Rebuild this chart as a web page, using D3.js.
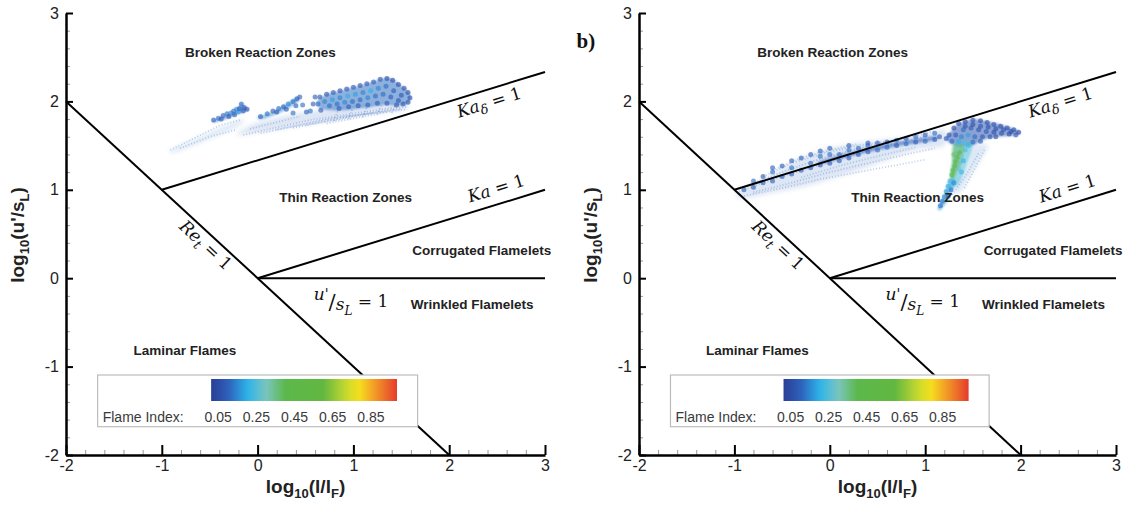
<!DOCTYPE html>
<html>
<head>
<meta charset="utf-8">
<script src="https://cdn.jsdelivr.net/npm/d3@7"></script>
<style>
  body { margin: 0; background: #fff; }
  svg { display: block; }
</style>
</head>
<body>
<script>
// ---- data ----
const xTicks = [-2, -1, 0, 1, 2, 3]
const yTicks = [-2, -1, 0, 1, 2, 3]
const fiTicks = [0.05, 0.25, 0.45, 0.65, 0.85]

// regime boundaries, in (log10(l/lF), log10(u'/sL))
const reLine = [[-2, 2], [2, -2]]
const kaDeltaLine = [[-1, 1], [3, 7 / 3]]
const kaLine = [[0, 0], [3, 1]]
const uslLine = [[0, 0], [3, 0]]

const regionNames = ['Broken Reaction Zones', 'Thin Reaction Zones', 'Corrugated Flamelets',
  'Wrinkled Flamelets', 'Laminar Flames']

// panel a
// faint haze outlines [flame index, outline]
const leftHaze = [
  [0.12, [[-0.92, 1.44], [-0.6, 1.6], [-0.3, 1.74], [-0.15, 1.8], [-0.2, 1.72], [-0.5, 1.58], [-0.85, 1.43]]],
  [0.10, [[-0.2, 1.62], [0.5, 1.74], [1.0, 1.83], [1.5, 1.9], [1.56, 1.96], [1.0, 1.94], [0.5, 1.88], [0.0, 1.76]]]
]
// dense patch outlines [flame index, outline]
const leftPatches = [
  [0.12, [[0.62, 2.0], [0.72, 2.08], [0.86, 2.12], [1.0, 2.16], [1.14, 2.2], [1.28, 2.25], [1.36, 2.27],
    [1.44, 2.23], [1.52, 2.16], [1.58, 2.1], [1.6, 2.03], [1.57, 1.98], [1.48, 1.95], [1.35, 1.96],
    [1.2, 1.94], [1.05, 1.92], [0.9, 1.9], [0.75, 1.9], [0.65, 1.92]]],
  [0.12, [[-0.47, 1.78], [-0.35, 1.83], [-0.22, 1.9], [-0.17, 1.98], [-0.12, 1.93], [-0.1, 1.9],
    [-0.2, 1.86], [-0.33, 1.8], [-0.45, 1.76]]],
  [0.15, [[0.0, 1.82], [0.2, 1.9], [0.4, 2.04], [0.43, 2.0], [0.25, 1.88], [0.05, 1.8]]]
]
// faint streaks [flame index, points]
const leftStreaks = [
  [0.12, [[-0.91, 1.45], [-0.67, 1.58], [-0.39, 1.73], [-0.18, 1.79]]],
  [0.12, [[-0.81, 1.47], [-0.50, 1.60], [-0.22, 1.68]]],
  [0.10, [[-0.15, 1.62], [0.55, 1.79], [1.42, 1.93]]],
  [0.10, [[0.03, 1.64], [0.72, 1.80], [1.49, 1.91]]],
  [0.10, [[0.20, 1.68], [0.90, 1.83], [1.56, 1.91]]],
  [0.10, [[0.37, 1.70], [1.07, 1.85], [1.57, 1.94]]],
  [0.10, [[0.51, 1.73], [1.21, 1.87]]],
  [0.10, [[-0.08, 1.69], [0.44, 1.83]]],
  [0.10, [[0.72, 1.75], [1.35, 1.88]]],
  [0.10, [[0.80, 1.78], [0.84, 1.90]]],
  [0.10, [[0.95, 1.80], [0.99, 1.92]]],
  [0.10, [[1.10, 1.82], [1.14, 1.94]]],
  [0.10, [[1.25, 1.85], [1.29, 1.96]]],
  [0.10, [[1.40, 1.87], [1.44, 1.96]]]
]
// dense points [x, y, flame index]
const leftDots = [
  [-0.46, 1.79, 0.10], [-0.41, 1.81, 0.12], [-0.38, 1.80, 0.10], [-0.36, 1.84, 0.10],
  [-0.32, 1.86, 0.12], [-0.30, 1.83, 0.08], [-0.28, 1.87, 0.15], [-0.25, 1.89, 0.12],
  [-0.24, 1.85, 0.10], [-0.22, 1.91, 0.15], [-0.20, 1.88, 0.18], [-0.19, 1.92, 0.10],
  [-0.17, 1.97, 0.12], [-0.15, 1.89, 0.10], [-0.14, 1.93, 0.10], [-0.11, 1.91, 0.08],
  [0.03, 1.83, 0.10], [0.10, 1.86, 0.12], [0.16, 1.89, 0.10], [0.20, 1.88, 0.08],
  [0.22, 1.92, 0.12], [0.27, 1.94, 0.10], [0.30, 1.91, 0.10], [0.32, 1.97, 0.15],
  [0.37, 2.00, 0.12], [0.41, 2.03, 0.10],
  [0.37, 1.87, 0.12], [0.40, 1.95, 0.10], [0.44, 2.05, 0.10], [0.47, 1.96, 0.12], [0.51, 1.88, 0.10],
  [0.55, 1.89, 0.12], [0.58, 1.97, 0.10], [0.60, 2.05, 0.10], [0.63, 1.97, 0.12], [0.66, 1.90, 0.10],
  [0.65, 2.05, 0.08], [0.72, 2.08, 0.08], [0.79, 2.10, 0.10], [0.86, 2.12, 0.08], [0.93, 2.14, 0.08],
  [1.00, 2.16, 0.10], [1.07, 2.18, 0.08], [1.14, 2.20, 0.08], [1.21, 2.22, 0.10], [1.28, 2.25, 0.08],
  [1.35, 2.26, 0.06], [1.41, 2.24, 0.06], [1.47, 2.19, 0.06], [1.53, 2.15, 0.06], [1.57, 2.10, 0.06],
  [1.59, 2.04, 0.06], [1.57, 1.99, 0.08], [1.52, 1.97, 0.08],
  [0.70, 2.00, 0.15], [0.78, 2.02, 0.18], [0.86, 2.04, 0.15], [0.94, 2.06, 0.20], [1.02, 2.08, 0.18],
  [1.10, 2.10, 0.15], [1.18, 2.12, 0.20], [1.26, 2.15, 0.15], [1.34, 2.17, 0.12], [1.42, 2.12, 0.10],
  [1.50, 2.07, 0.08],
  [0.75, 1.95, 0.12], [0.83, 1.97, 0.12], [0.91, 1.99, 0.15], [0.99, 2.00, 0.12], [1.07, 2.02, 0.12],
  [1.15, 2.04, 0.15], [1.23, 2.06, 0.12], [1.31, 2.08, 0.12], [1.39, 2.05, 0.10], [1.47, 2.01, 0.08],
  [0.85, 1.92, 0.10], [0.95, 1.94, 0.10], [1.05, 1.95, 0.10], [1.15, 1.96, 0.10], [1.25, 1.98, 0.10],
  [1.35, 1.98, 0.10], [1.45, 1.96, 0.08]
]

// panel b
const rightHaze = [
  [0.10, [[-0.97, 0.96], [-0.6, 1.18], [-0.3, 1.36], [0.0, 1.47], [0.3, 1.53], [0.6, 1.57], [0.9, 1.61],
    [1.2, 1.68], [1.2, 1.5], [0.9, 1.45], [0.6, 1.34], [0.3, 1.22], [0.0, 1.12], [-0.3, 1.03],
    [-0.6, 0.97], [-0.9, 0.9]]],
  [0.12, [[1.5, 1.5], [1.66, 1.5], [1.5, 1.2], [1.36, 0.96], [1.3, 1.0], [1.42, 1.25]]]
]
const rightPatches = [
  [0.08, [[1.22, 1.58], [1.3, 1.7], [1.38, 1.76], [1.5, 1.8], [1.62, 1.78], [1.75, 1.75], [1.88, 1.71],
    [1.97, 1.67], [1.99, 1.63], [1.9, 1.61], [1.75, 1.6], [1.6, 1.56], [1.5, 1.5], [1.4, 1.49], [1.3, 1.5]]],
  [0.24, [[1.32, 1.53], [1.50, 1.53], [1.44, 1.3], [1.35, 1.06], [1.26, 1.04], [1.28, 1.3]]],
  [0.45, [[1.29, 1.50], [1.41, 1.49], [1.37, 1.3], [1.30, 1.12], [1.26, 1.15], [1.28, 1.3]]],
  [0.18, [[1.25, 1.12], [1.32, 1.1], [1.25, 0.9], [1.16, 0.77], [1.13, 0.8], [1.2, 0.95]]],
  [0.10, [[-0.1, 1.33], [0.3, 1.45], [0.7, 1.54], [1.1, 1.61], [1.1, 1.56], [0.7, 1.49], [0.3, 1.4], [-0.1, 1.29]]]
]
const rightStreaks = [
  [0.12, [[-0.95, 0.98], [-0.60, 1.12], [-0.20, 1.25], [0.20, 1.38], [0.60, 1.50], [1.00, 1.60]]],
  [0.12, [[-0.85, 1.05], [-0.50, 1.20], [-0.10, 1.35], [0.30, 1.47], [0.70, 1.57], [1.10, 1.66]]],
  [0.12, [[-0.70, 1.15], [-0.40, 1.30], [-0.05, 1.42], [0.30, 1.50], [0.60, 1.55]]],
  [0.10, [[-0.60, 1.22], [-0.30, 1.36], [0.00, 1.45], [0.30, 1.52]]],
  [0.10, [[-0.90, 0.93], [-0.50, 1.02], [-0.10, 1.12], [0.30, 1.20], [0.70, 1.28], [1.00, 1.34]]],
  [0.10, [[-0.80, 0.97], [-0.40, 1.08], [0.00, 1.20], [0.40, 1.30], [0.80, 1.40], [1.10, 1.47]]],
  [0.12, [[-0.30, 1.14], [0.10, 1.27], [0.50, 1.38], [0.90, 1.48]]],
  [0.12, [[1.56, 1.41], [1.42, 1.15], [1.28, 0.94]]],
  [0.12, [[1.62, 1.45], [1.50, 1.20], [1.40, 1.00]]]
]
const rightDots = [
  [-0.90, 1.00, 0.10], [-0.80, 1.03, 0.10], [-0.80, 1.10, 0.12], [-0.70, 1.08, 0.10], [-0.70, 1.15, 0.10],
  [-0.60, 1.10, 0.10], [-0.60, 1.20, 0.12], [-0.60, 1.25, 0.10], [-0.50, 1.15, 0.10], [-0.50, 1.27, 0.10],
  [-0.40, 1.18, 0.10], [-0.40, 1.25, 0.12], [-0.40, 1.33, 0.10], [-0.30, 1.22, 0.10], [-0.30, 1.36, 0.10],
  [-0.20, 1.25, 0.10], [-0.20, 1.30, 0.12], [-0.20, 1.40, 0.10], [-0.10, 1.28, 0.10], [-0.10, 1.38, 0.12],
  [-0.10, 1.44, 0.10], [0.00, 1.30, 0.10], [0.00, 1.40, 0.12], [0.00, 1.47, 0.10], [0.10, 1.33, 0.10],
  [0.10, 1.40, 0.12], [0.20, 1.36, 0.10], [0.20, 1.45, 0.12], [0.20, 1.50, 0.10], [0.30, 1.40, 0.10],
  [0.30, 1.47, 0.12], [0.40, 1.43, 0.10], [0.40, 1.50, 0.12], [0.40, 1.53, 0.10], [0.50, 1.45, 0.12],
  [0.50, 1.53, 0.10], [0.60, 1.48, 0.12], [0.60, 1.54, 0.10], [0.70, 1.50, 0.10], [0.70, 1.56, 0.12],
  [0.80, 1.52, 0.12], [0.80, 1.58, 0.10], [0.90, 1.54, 0.10], [0.90, 1.60, 0.12], [1.00, 1.55, 0.12],
  [1.00, 1.62, 0.10], [1.10, 1.57, 0.10], [1.10, 1.64, 0.12], [1.15, 1.60, 0.10],
  [1.25, 1.62, 0.08], [1.30, 1.70, 0.06], [1.35, 1.75, 0.08], [1.42, 1.77, 0.06], [1.50, 1.79, 0.08],
  [1.58, 1.78, 0.06], [1.65, 1.76, 0.06], [1.72, 1.74, 0.08], [1.79, 1.72, 0.06], [1.86, 1.70, 0.06],
  [1.93, 1.68, 0.06], [1.98, 1.65, 0.06], [1.95, 1.62, 0.08], [1.88, 1.63, 0.06], [1.80, 1.64, 0.08],
  [1.72, 1.65, 0.06], [1.64, 1.66, 0.10], [1.56, 1.68, 0.08], [1.48, 1.70, 0.10], [1.40, 1.68, 0.12],
  [1.42, 1.72, 0.08], [1.50, 1.74, 0.06], [1.58, 1.72, 0.08], [1.66, 1.71, 0.06], [1.74, 1.69, 0.06],
  [1.82, 1.68, 0.08], [1.90, 1.66, 0.06],
  [1.32, 1.62, 0.10], [1.38, 1.60, 0.15], [1.45, 1.62, 0.18], [1.52, 1.60, 0.12], [1.60, 1.60, 0.10],
  [1.68, 1.60, 0.08], [1.74, 1.60, 0.06], [1.35, 1.55, 0.20], [1.42, 1.55, 0.25], [1.50, 1.54, 0.12],
  [1.58, 1.55, 0.10], [1.28, 1.55, 0.12], [1.22, 1.58, 0.10],
  [1.33, 1.46, 0.30], [1.36, 1.42, 0.40], [1.34, 1.37, 0.45], [1.32, 1.32, 0.45], [1.31, 1.27, 0.48],
  [1.29, 1.22, 0.45], [1.28, 1.17, 0.40], [1.38, 1.38, 0.30], [1.36, 1.30, 0.32], [1.35, 1.24, 0.28],
  [1.30, 1.40, 0.35], [1.42, 1.45, 0.25], [1.45, 1.50, 0.22], [1.40, 1.33, 0.20], [1.38, 1.20, 0.22],
  [1.26, 1.10, 0.25], [1.24, 1.04, 0.20], [1.22, 0.98, 0.18], [1.20, 0.92, 0.15], [1.18, 0.87, 0.12],
  [1.16, 0.82, 0.12], [1.30, 1.08, 0.15], [1.27, 1.00, 0.12], [1.24, 0.93, 0.10]
]

// colour map of the flame index bar
const colorStops = [0, 0.1, 0.2, 0.3, 0.4, 0.6, 0.7, 0.78, 0.87, 1]
const colorHex = ['#283c92', '#2f5cb8', '#2ab2ea', '#7cc6c2', '#5cb84c', '#62b740',
  '#b5d334', '#f5e61c', '#f49b28', '#e3302b']
const fiColor = d3.scaleLinear().domain(colorStops).range(colorHex)

// ---- layout ----
const W = 1125, H = 506
const m = { top: 13, bottom: 455 }
const panels = [
  { left: 66, right: 545, haze: leftHaze, patches: leftPatches, streaks: leftStreaks, dots: leftDots, tag: null },
  { left: 639, right: 1116, haze: rightHaze, patches: rightPatches, streaks: rightStreaks, dots: rightDots, tag: 'b)' }
]
// label anchors in data coords
const regionPos = [[0.03, 2.56], [0.92, 0.92], [2.34, 0.32], [2.24, -0.30], [-0.76, -0.82]]
const sans = "'Liberation Sans', Arial, sans-serif"
const serif = "'DejaVu Serif', 'Liberation Serif', serif"

const svg = d3.select('body').append('svg')
  .attr('width', W)
  .attr('height', H)
  .attr('font-family', sans)

const defs = svg.append('defs')
const blur = (id, s) => defs.append('filter').attr('id', id)
  .attr('x', '-20%').attr('y', '-20%').attr('width', '140%').attr('height', '140%')
  .append('feGaussianBlur').attr('stdDeviation', s)
blur('soft', 0.6)
blur('haze', 2.2)
blur('patch', 1.3)

const cbDomain = [0.013, 0.987]
const grad = defs.append('linearGradient').attr('id', 'fiGrad')
  .attr('x1', 0).attr('x2', 1).attr('y1', 0).attr('y2', 0)
d3.range(0, 1.0001, 0.05).forEach(t => {
  grad.append('stop').attr('offset', t)
    .attr('stop-color', fiColor(cbDomain[0] + t * (cbDomain[1] - cbDomain[0])))
})

panels.forEach(p => drawPanel(p))

function drawPanel(p) {
  const x = d3.scaleLinear().domain([-2, 3]).range([p.left, p.right])
  const y = d3.scaleLinear().domain([-2, 3]).range([m.bottom, m.top])
  const line = d3.line().x(d => x(d[0])).y(d => y(d[1]))
  const area = d3.line().x(d => x(d[0])).y(d => y(d[1])).curve(d3.curveCardinalClosed.tension(0.3))
  const g = svg.append('g')

  // scatter cloud
  g.append('g').attr('filter', 'url(#haze)')
    .selectAll('path')
    .data(p.haze)
    .join('path')
    .attr('d', d => area(d[1]))
    .attr('fill', d => fiColor(d[0]))
    .attr('fill-opacity', 0.16)
  g.append('g').attr('filter', 'url(#patch)')
    .selectAll('path')
    .data(p.patches)
    .join('path')
    .attr('d', d => area(d[1]))
    .attr('fill', d => fiColor(d[0]))
    .attr('fill-opacity', 0.55)
  const cloud = g.append('g').attr('filter', 'url(#soft)')
  cloud.selectAll('path')
    .data(p.streaks)
    .join('path')
    .attr('d', d => line(d[1]))
    .attr('fill', 'none')
    .attr('stroke', d => fiColor(d[0]))
    .attr('stroke-width', 1.8)
    .attr('stroke-dasharray', '1 2')
    .attr('stroke-opacity', 0.3)
  cloud.selectAll('circle')
    .data(p.dots)
    .join('circle')
    .attr('cx', d => x(d[0]))
    .attr('cy', d => y(d[1]))
    .attr('r', 2.5)
    .attr('fill', d => fiColor(d[2]))
    .attr('fill-opacity', 0.62)

  // regime lines
  g.selectAll('path.regime')
    .data([reLine, kaDeltaLine, kaLine, uslLine])
    .join('path')
    .attr('class', 'regime')
    .attr('d', line)
    .attr('fill', 'none')
    .attr('stroke', '#000')
    .attr('stroke-width', 2)

  // region names
  g.selectAll('text.region')
    .data(regionNames)
    .join('text')
    .attr('class', 'region')
    .attr('x', (d, i) => x(regionPos[i][0]))
    .attr('y', (d, i) => y(regionPos[i][1]))
    .attr('dy', '0.35em')
    .attr('text-anchor', 'middle')
    .attr('font-size', 13.5)
    .attr('font-weight', 'bold')
    .attr('fill', '#222')
    .text(d => d)

  // math labels along the lines
  const angKd = Math.atan2(y(kaDeltaLine[1][1]) - y(kaDeltaLine[0][1]),
    x(kaDeltaLine[1][0]) - x(kaDeltaLine[0][0])) * 180 / Math.PI
  const angRe = Math.atan2(y(reLine[1][1]) - y(reLine[0][1]),
    x(reLine[1][0]) - x(reLine[0][0])) * 180 / Math.PI

  const mathLabel = (px, py, ang) => g.append('text')
    .attr('transform', `translate(${x(px)},${y(py)}) rotate(${ang})`)
    .attr('text-anchor', 'middle')
    .attr('dy', '0.35em')
    .attr('font-family', serif)
    .attr('font-size', 17)
    .attr('fill', '#111')

  const kd = mathLabel(2.415, 1.99, angKd)
  kd.append('tspan').attr('font-style', 'italic').text('Ka')
  kd.append('tspan').attr('font-style', 'italic').attr('font-size', 13).attr('dy', 4).text('δ')
  kd.append('tspan').attr('dy', -4).text(' = 1')

  const ka = mathLabel(2.49, 1.017, angKd)
  ka.append('tspan').attr('font-style', 'italic').text('Ka')
  ka.append('tspan').text(' = 1')

  const re = mathLabel(-0.54, 0.375, angRe)
  re.append('tspan').attr('font-style', 'italic').text('Re')
  re.append('tspan').attr('font-style', 'italic').attr('font-size', 13).attr('dy', 4).text('t')
  re.append('tspan').attr('dy', -4).text(' = 1')

  const us = g.append('text')
    .attr('x', x(0.975))
    .attr('y', y(-0.27) + 5)
    .attr('text-anchor', 'middle')
    .attr('font-family', serif)
    .attr('font-size', 17)
    .attr('fill', '#111')
  us.append('tspan').attr('font-style', 'italic').attr('dy', -7).text('u')
  us.append('tspan').attr('font-size', 14).attr('dy', -1).text("'")
  us.append('tspan').attr('font-size', 21).attr('dy', 10).text('/')
  us.append('tspan').attr('font-style', 'italic').attr('dy', 1).text('s')
  us.append('tspan').attr('font-style', 'italic').attr('font-size', 12).attr('dy', 5).text('L')
  us.append('tspan').attr('dy', -8).text(' = 1')

  // flame index legend
  const cb = d3.scaleLinear().domain(cbDomain).range([x(-0.485), x(1.455)])
  g.append('rect')
    .attr('x', x(-1.67)).attr('y', y(-1.095))
    .attr('width', x(1.67) - x(-1.67)).attr('height', y(-1.68) - y(-1.095))
    .attr('fill', '#fff')
    .attr('stroke', '#bdbdbd')
    .attr('stroke-width', 1.2)
  g.append('rect')
    .attr('x', cb.range()[0]).attr('y', y(-1.14))
    .attr('width', cb.range()[1] - cb.range()[0]).attr('height', y(-1.389) - y(-1.14))
    .attr('fill', 'url(#fiGrad)')
  g.append('text')
    .attr('x', x(-1.617)).attr('y', y(-1.627))
    .attr('font-size', 14).attr('fill', '#3a3a3a')
    .text('Flame Index:')
  g.selectAll('text.fi')
    .data(fiTicks)
    .join('text')
    .attr('class', 'fi')
    .attr('x', d => cb(d)).attr('y', y(-1.627))
    .attr('text-anchor', 'middle')
    .attr('font-size', 14).attr('fill', '#3a3a3a')
    .text(d => d.toFixed(2))

  // axes
  const minor = d3.range(-2, 3.001, 0.2).filter(v => Math.abs(v - Math.round(v)) > 0.01)
  const yMinor = g.append('g').attr('transform', `translate(${p.left},0)`)
    .call(d3.axisLeft(y).tickValues(minor).tickSize(-4).tickSizeOuter(0).tickFormat(''))
  const xMinor = g.append('g').attr('transform', `translate(0,${m.bottom})`)
    .call(d3.axisBottom(x).tickValues(minor).tickSize(-5).tickSizeOuter(0).tickFormat(''))
  ;[yMinor, xMinor].forEach(a => {
    a.select('.domain').remove()
    a.selectAll('line').attr('stroke', '#9a9a9a')
  })

  const yAxis = g.append('g').attr('transform', `translate(${p.left},0)`)
    .call(d3.axisLeft(y).tickValues(yTicks).tickSize(-7).tickSizeOuter(0).tickPadding(7)
      .tickFormat(d => String(d)))
  const xAxis = g.append('g').attr('transform', `translate(0,${m.bottom})`)
    .call(d3.axisBottom(x).tickValues(xTicks).tickSize(-10).tickSizeOuter(0).tickPadding(5)
      .tickFormat(d => String(d)))
  ;[yAxis, xAxis].forEach(a => {
    a.select('.domain').attr('stroke-width', 2.5)
    a.selectAll('line').attr('stroke-width', 2)
    a.selectAll('text')
      .attr('font-family', sans)
      .attr('font-size', 16).attr('fill', '#222')
  })

  // axis titles
  const yt = g.append('text')
    .attr('transform', `translate(${p.left - 42},${(m.top + m.bottom) / 2 + 1}) rotate(-90)`)
    .attr('text-anchor', 'middle')
    .attr('font-size', 19).attr('font-weight', 'bold').attr('fill', '#222')
  yt.append('tspan').text('log')
  yt.append('tspan').attr('font-size', 13).attr('dy', 5).text('10')
  yt.append('tspan').attr('dy', -5).text("(u'/s")
  yt.append('tspan').attr('font-size', 13).attr('dy', 5).text('L')
  yt.append('tspan').attr('dy', -5).text(')')

  const xt = g.append('text')
    .attr('x', (p.left + p.right) / 2).attr('y', 493)
    .attr('text-anchor', 'middle')
    .attr('font-size', 19).attr('font-weight', 'bold').attr('fill', '#222')
  xt.append('tspan').text('log')
  xt.append('tspan').attr('font-size', 13).attr('dy', 5).text('10')
  xt.append('tspan').attr('dy', -5).text('(l/l')
  xt.append('tspan').attr('font-size', 13).attr('dy', 5).text('F')
  xt.append('tspan').attr('dy', -5).text(')')

  if (p.tag) {
    g.append('text')
      .attr('x', x(-2.654)).attr('y', y(2.604))
      .attr('font-family', "'Liberation Serif', 'Times New Roman', serif")
      .attr('font-size', 21).attr('font-weight', 'bold').attr('fill', '#111')
      .text(p.tag)
  }
}
</script>
</body>
</html>
